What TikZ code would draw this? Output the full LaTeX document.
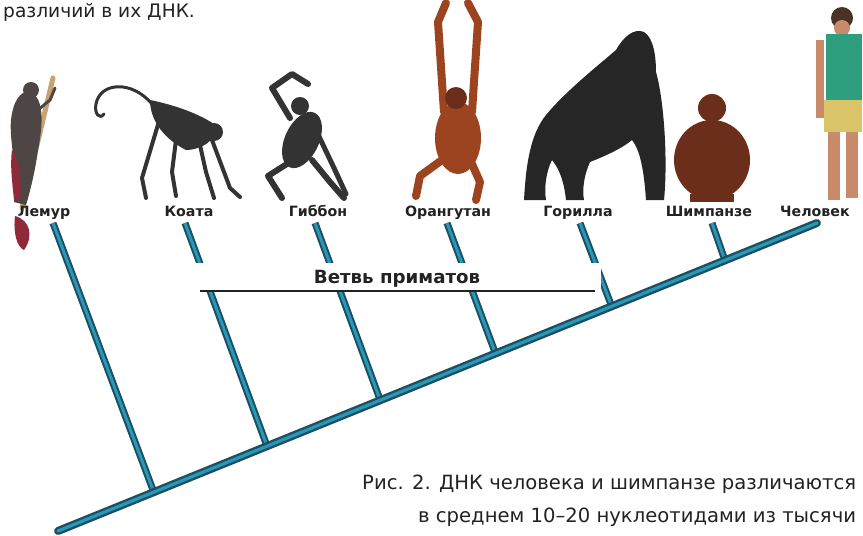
\documentclass[tikz,border=0pt]{standalone}
\usepackage{fontspec}
\setmainfont{DejaVu Sans}
\definecolor{treedark}{HTML}{1C4F60}
\definecolor{treelight}{HTML}{2A96B8}
\definecolor{inkgrey}{HTML}{222222}
\definecolor{furdark}{HTML}{333333}
\definecolor{furgorilla}{HTML}{262626}
\definecolor{furorange}{HTML}{9C4320}
\definecolor{furchimp}{HTML}{6A2E1A}
\definecolor{lemurred}{HTML}{8E2A3A}
\definecolor{lemurgrey}{HTML}{4D4644}
\definecolor{stickcol}{HTML}{C9A273}
\definecolor{skin}{HTML}{C98A6A}
\definecolor{shirt}{HTML}{2F9E7E}
\definecolor{shorts}{HTML}{D9C46A}
\definecolor{hair}{HTML}{4A3326}
\tikzset{
  trunkline/.style={line width=8, draw=treedark, line cap=round,
    postaction={draw=treelight, line width=3.2, line cap=round}},
  twig/.style={line width=7, draw=treedark,
    postaction={draw=treelight, line width=3}},
  taxon/.style={anchor=base, inner sep=0pt, text=inkgrey,
    font=\fontsize{14.2}{16}\selectfont\bfseries},
  bodytext/.style={anchor=base west, inner sep=0pt, text=inkgrey,
    font=\fontsize{19.6}{24}\selectfont},
  limb/.style={line width=#1, line cap=round, line join=round},
}
\begin{document}
\begin{tikzpicture}[x=1pt,y=-1pt]
\useasboundingbox[fill=white] (0,0) rectangle (863,536);

% ---------- animals ----------
% lemur on a stick
\draw[limb=5, stickcol] (53,78) -- (22,208);
\fill[lemurgrey] (30,92) .. controls (46,98) and (42,130) .. (38,150)
  .. controls (35,172) and (30,192) .. (26,205) -- (14,202)
  .. controls (18,172) and (9,140) .. (11,120)
  .. controls (13,102) and (20,90) .. (30,92) -- cycle;
\fill[lemurgrey] (31,90) circle (8);
\draw[limb=3, lemurgrey] (38,110) -- (50,100) -- (55,88);
\fill[lemurred] (12,150) .. controls (20,160) and (22,185) .. (20,200)
  -- (14,200) .. controls (12,180) and (10,165) .. (12,150) -- cycle;
\fill[lemurred] (15,216) .. controls (30,220) and (34,236) .. (24,250)
  .. controls (17,247) and (13,233) .. (15,216) -- cycle;

% coata
\draw[limb=3, furdark] (152,104) .. controls (132,80) and (100,82) .. (96,104)
  .. controls (94,114) and (100,120) .. (104,114);
\fill[furdark] (150,100) .. controls (170,104) and (196,112) .. (214,124)
  .. controls (220,140) and (200,150) .. (186,150)
  .. controls (166,140) and (150,122) .. (150,100) -- cycle;
\fill[furdark] (214,132) circle (9);
\draw[limb=4, furdark] (160,118) -- (142,178) -- (146,198);
\draw[limb=4, furdark] (176,140) -- (172,172) -- (176,196);
\draw[limb=4, furdark] (200,145) -- (206,172) -- (214,198);
\draw[limb=4, furdark] (212,140) -- (230,188) -- (240,197);

% gibbon
\fill[furdark, rotate around={-25:(302,140)}] (302,140) ellipse (17 and 30);
\fill[furdark] (300,106) circle (9);
\draw[limb=6, furdark] (290,118) -- (272,88) -- (292,74) -- (308,84);
\draw[limb=6, furdark] (290,162) -- (268,176) -- (282,198);
\draw[limb=6, furdark] (312,160) -- (330,182) -- (344,198);
\draw[limb=5, furdark] (314,126) -- (334,168) -- (346,194);

% orangutan hanging
\draw[limb=8, furorange] (444,112) -- (438,22) -- (446,3);
\draw[limb=8, furorange] (472,112) -- (478,22) -- (468,3);
\fill[furorange] (458,138) ellipse (23 and 36);
\fill[furchimp] (456,98) circle (11);
\draw[limb=8, furorange] (442,160) -- (420,176) -- (416,196);
\draw[limb=8, furorange] (472,164) -- (480,182) -- (476,200);

% gorilla on its knuckles, facing right
\fill[furgorilla] (524,200) .. controls (526,165) and (530,135) .. (546,115)
  .. controls (565,92) and (595,68) .. (616,50)
  .. controls (624,36) and (634,28) .. (644,32)
  .. controls (654,38) and (656,58) .. (656,72)
  .. controls (664,100) and (668,160) .. (664,200)
  -- (646,200) .. controls (644,170) and (640,150) .. (632,140)
  .. controls (620,150) and (600,158) .. (590,162)
  .. controls (584,175) and (582,190) .. (584,200)
  -- (566,200) .. controls (564,182) and (560,170) .. (552,160)
  .. controls (546,172) and (544,188) .. (546,200) -- cycle;

% chimpanzee sitting
\fill[furchimp] (712,160) ellipse (38 and 40);
\fill[furchimp] (712,108) circle (14);
\fill[furchimp] (690,194) rectangle (734,202);

% human
\fill[hair] (842,18) circle (11);
\fill[skin] (842,28) circle (8);
\fill[shirt] (826,34) rectangle (862,100);
\fill[shorts] (824,100) rectangle (862,132);
\fill[skin] (828,132) rectangle (840,200);
\fill[skin] (846,132) rectangle (858,198);
\fill[skin] (816,40) rectangle (824,118);

% ---------- tree ----------
\coordinate (root) at (58,531);
\coordinate (top) at (817,223);
\coordinate (jLemur)  at (155,495.3);
\coordinate (jCoata)  at (268,448.8);
\coordinate (jGibbon) at (381,402.2);
\coordinate (jOrang)  at (496,354.8);
\coordinate (jGor)    at (612,307.1);
\coordinate (jChimp)  at (725,260.5);
\coordinate (tLemur)  at (53,223);
\coordinate (tCoata)  at (185,223);
\coordinate (tGibbon) at (315,223);
\coordinate (tOrang)  at (447,223);
\coordinate (tGor)    at (580,223);
\coordinate (tChimp)  at (712,223);

\draw[twig] (tLemur) -- (jLemur);
\draw[twig] (tCoata) -- (jCoata);
\draw[twig] (tGibbon) -- (jGibbon);
\draw[twig] (tOrang) -- (jOrang);
\draw[twig] (tGor) -- (jGor);
\draw[twig] (tChimp) -- (jChimp);
\draw[trunkline] (root) -- (top);

% label band across the branches
\fill[white] (178,263) rectangle (601,292);
\node[anchor=base, inner sep=0pt, text=inkgrey,
  font=\fontsize{18.2}{21}\selectfont\bfseries] (clade) at (397,283) {Ветвь приматов};
\coordinate (bandL) at (200,291);
\coordinate (bandR) at (595,291);
\draw[line width=1.1, inkgrey] (bandL) -- (bandR);

% ---------- labels ----------
\node[taxon] (lemur)   at (44,216)  {Лемур};
\node[taxon] (coata)   at (189,216) {Коата};
\node[taxon] (gibbon)  at (318,216) {Гиббон};
\node[taxon] (orang)   at (448,216) {Орангутан};
\node[taxon] (gorilla) at (578,216) {Горилла};
\node[taxon] (chimp)   at (709,216) {Шимпанзе};
\node[taxon] (human)   at (815,216) {Человек};

% ---------- running text ----------
\node[bodytext, font=\fontsize{18.6}{22}\selectfont] (intro) at (3,17) {различий в их ДНК.};
\node[bodytext] (cap1) at (362,489) {Рис. 2. ДНК человека и шимпанзе различаются};
\node[bodytext] (cap2) at (418,522) {в среднем 10–20 нуклеотидами из тысячи};
\end{tikzpicture}
\end{document}
